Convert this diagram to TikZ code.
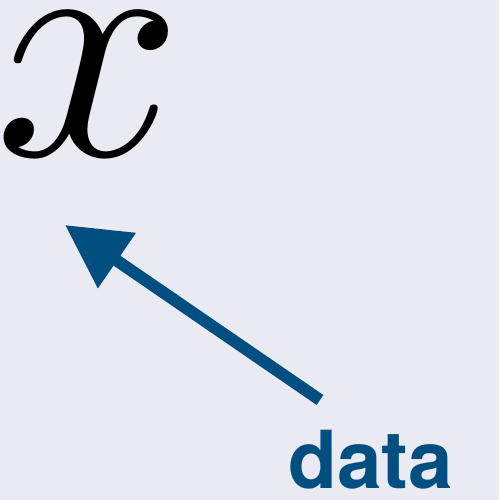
\documentclass[tikz,border=0pt]{standalone}
\usepackage{xcolor}
\usepackage{fontspec}
\setsansfont{TeX Gyre Heros}
\usepackage{tikz}
\usetikzlibrary{positioning,arrows.meta}
\definecolor{paneBg}{HTML}{EAEAF2}
\definecolor{dataBlue}{HTML}{004F80}

\begin{document}
\begin{tikzpicture}[x=1pt,y=1pt,
      sym/.style={inner sep=0pt,scale=33},
      tag/.style={inner sep=0pt,text=dataBlue,font=\sffamily\bfseries\fontsize{80}{80}\selectfont},
      pointer/.style={-{Triangle[length=63pt,width=64pt]},line width=12pt,dataBlue}
    ]
    \fill[paneBg] (0,0) rectangle (499,500);
    \useasboundingbox (0,0) rectangle (499,500);

    \node[sym] (var) at (89,416) {$x$};
    \node[tag,anchor=base] (lbl) at (371,12) {data};

    \coordinate (tail) at (320,100);
    \coordinate (head) at (65,275);
    \draw[pointer] (tail) -- (head);
  \end{tikzpicture}
\end{document}
